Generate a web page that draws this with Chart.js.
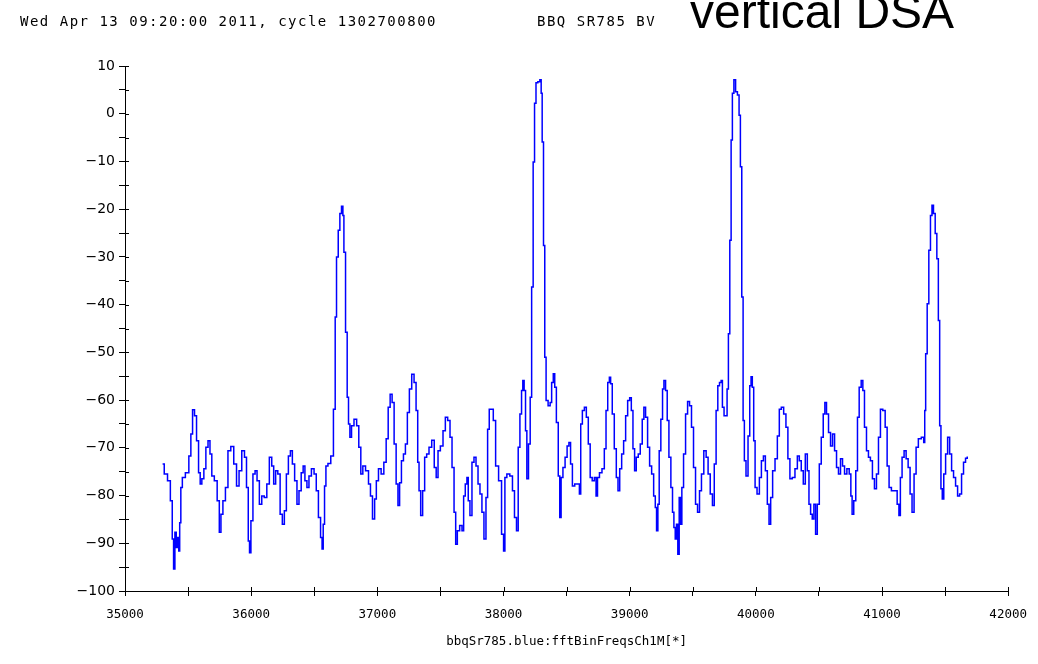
<!DOCTYPE html>
<html>
<head>
<meta charset="utf-8">
<script src="https://cdn.jsdelivr.net/npm/chart.js@4.4.1/dist/chart.umd.min.js"></script>
<style>
  body { margin: 0; background: #fff; }
  #wrap { position: relative; width: 1038px; height: 664px; background: #fff; overflow: hidden; }
  #chart { position: absolute; left: 0; top: 0; }
  .hdr { position: absolute; font-family: 'DejaVu Sans Mono', monospace; font-size: 14px; letter-spacing: 1.5px; color: #000; white-space: nowrap; }
  #big { position: absolute; left: 690px; top: -12px; font-family: 'Liberation Sans', Arial, sans-serif; font-size: 48px; line-height: 48px; color: #000; white-space: nowrap; }
</style>
</head>
<body>
<div id="wrap">
  <canvas id="chart" width="1038" height="664"></canvas>
  <div class="hdr" style="left:20px; top:13px;">Wed Apr 13 09:20:00 2011, cycle 1302700800</div>
  <div class="hdr" style="left:537px; top:13px;">BBQ SR785 BV</div>
  <div id="big">vertical DSA</div>
</div>
<script>
// spectrum trace: bin frequency and level
var freqs = [
  35298,35324,35350,35369,35380,35390,35401,35411,35422,35430,35437,35448,35461,35496,35516,35528,35543,35559,35575,35591,
  35601,35617,35633,35649,35667,35680,35696,35720,35741,35754,35767,35785,35807,35825,35852,35872,35896,35912,35939,35955,
  35971,35983,35991,36005,36023,36039,36054,36076,36092,36115,36133,36155,36171,36186,36202,36220,36239,36255,36271,36287,
  36303,36319,36334,36355,36371,36387,36406,36418,36434,36450,36466,36489,36508,36524,36542,36558,36566,36576,36587,36598,
  36619,36643,36661,36671,36682,36698,36708,36724,36730,36740,36756,36766,36777,36788,36803,36827,36845,36861,36877,36893,
  36920,36940,36951,36972,36985,36999,37019,37041,37062,37078,37094,37109,37125,37141,37157,37170,37183,37199,37215,37230,
  37246,37262,37283,37299,37315,37325,37336,37351,37367,37383,37399,37420,37442,37460,37473,37489,37510,37531,37547,37568,
  37584,37600,37616,37626,37642,37663,37679,37689,37705,37715,37726,37742,37758,37774,37790,37806,37821,37837,37853,37869,
  37879,37895,37911,37927,37948,37974,37995,38006,38016,38037,38063,38079,38095,38111,38122,38138,38148,38158,38169,38180,
  38190,38206,38217,38229,38241,38251,38264,38280,38296,38301,38312,38322,38332,38343,38364,38375,38388,38401,38411,38427,
  38441,38451,38462,38480,38496,38512,38525,38538,38554,38575,38596,38607,38617,38633,38649,38664,38680,38694,38712,38728,
  38739,38751,38770,38791,38807,38818,38834,38844,38854,38870,38886,38902,38913,38929,38944,38960,38976,38992,39008,39018,
  39034,39044,39060,39076,39092,39107,39118,39134,39150,39166,39182,39198,39208,39218,39229,39239,39255,39266,39277,39292,
  39303,39319,39334,39345,39356,39366,39376,39387,39398,39408,39419,39435,39451,39467,39482,39498,39514,39530,39546,39561,
  39577,39598,39614,39629,39648,39664,39677,39693,39704,39720,39730,39740,39756,39767,39777,39788,39799,39809,39819,39833,
  39846,39862,39872,39883,39894,39904,39914,39930,39946,39957,39967,39977,39989,39999,40020,40036,40052,40068,40083,40099,
  40110,40125,40141,40163,40178,40194,40210,40231,40246,40262,40278,40299,40321,40337,40352,40368,40384,40400,40416,40426,
  40442,40452,40468,40479,40495,40511,40526,40542,40552,40568,40584,40600,40616,40632,40647,40663,40679,40695,40711,40732,
  40748,40758,40768,40784,40800,40811,40827,40843,40853,40869,40885,40900,40916,40932,40948,40964,40980,40995,41017,41033,
  41048,41064,41085,41112,41128,41140,41151,41167,41183,41199,41215,41230,41246,41262,41278,41298,41325,41336,41341,41351,
  41365,41377,41391,41401,41415,41428,41441,41452,41462,41472,41483,41496,41512,41528,41544,41559,41575,41591,41607,41623,
  41638,41654,41670,41681
];
var levels = [
  -73.4,-75.5,-76.9,-81.1,-89.1,-95.4,-87.7,-90.9,-88.8,-91.6,-85.7,-78.3,-76.2,-75.2,-71.7,-67.1,-62.0,-63.3,-68.5,-75.2,
  -77.6,-76.5,-74.4,-69.9,-68.5,-71.3,-75.9,-76.9,-81.1,-87.7,-83.9,-81.1,-78.3,-70.6,-69.7,-73.4,-78.0,-74.8,-70.6,-72.0,
  -78.3,-89.5,-92.0,-85.3,-75.5,-74.8,-76.9,-81.8,-80.1,-80.4,-77.6,-72.0,-73.8,-77.6,-74.8,-75.5,-83.9,-86.0,-83.2,-75.5,
  -71.7,-70.6,-73.4,-76.9,-81.8,-79.0,-75.2,-73.8,-76.9,-78.3,-75.9,-74.4,-75.5,-79.0,-84.6,-88.8,-91.2,-86.0,-78.0,-73.8,
  -73.3,-71.7,-61.9,-42.6,-30.0,-24.4,-20.9,-19.4,-21.3,-29.0,-45.8,-59.4,-65.0,-67.8,-65.4,-64.0,-65.4,-69.9,-75.5,-73.8,
  -74.8,-77.6,-80.1,-84.9,-80.7,-76.9,-74.4,-75.5,-73.0,-68.1,-61.5,-58.8,-60.5,-69.2,-77.6,-82.1,-77.3,-72.7,-71.3,-69.2,
  -62.6,-57.7,-54.6,-56.3,-62.2,-73.0,-79.0,-84.2,-79.0,-72.0,-71.3,-69.9,-68.4,-74.1,-76.2,-70.6,-69.6,-66.4,-63.6,-64.3,
  -67.8,-74.1,-83.5,-90.2,-87.4,-86.3,-87.4,-80.1,-77.6,-76.2,-81.1,-84.2,-73.0,-72.0,-73.8,-77.6,-79.7,-83.5,-89.1,-80.4,
  -66.1,-61.9,-61.9,-64.3,-73.8,-76.9,-88.1,-91.6,-76.2,-75.5,-75.9,-79.0,-84.6,-87.4,-69.9,-62.9,-58.0,-55.9,-58.0,-66.4,
  -76.5,-69.2,-59.4,-36.3,-10.1,2.2,6.5,6.7,7.1,4.3,-5.9,-27.6,-51.0,-60.1,-61.2,-60.5,-56.3,-54.5,-57.3,-64.7,
  -75.9,-84.6,-76.2,-74.1,-72.0,-69.6,-68.9,-73.4,-78.0,-77.6,-77.6,-79.7,-65.0,-62.2,-61.5,-63.6,-69.2,-76.2,-76.9,-76.2,
  -80.1,-76.2,-75.2,-74.4,-70.2,-62.2,-56.3,-55.2,-56.6,-62.9,-70.2,-76.2,-79.0,-74.4,-71.3,-68.5,-63.3,-60.1,-59.5,-62.2,
  -70.2,-74.8,-72.0,-71.3,-69.2,-64.0,-61.5,-63.6,-69.9,-73.8,-75.5,-80.1,-82.5,-87.4,-81.8,-70.6,-64.0,-57.7,-55.9,-58.0,
  -64.3,-72.0,-78.3,-83.5,-86.7,-89.1,-86.0,-92.3,-80.4,-86.0,-78.3,-71.3,-62.9,-60.3,-61.2,-65.7,-74.1,-81.8,-83.5,-79.0,
  -75.5,-70.6,-72.0,-75.5,-79.7,-82.1,-73.4,-62.2,-57.0,-56.3,-55.9,-61.5,-63.3,-63.3,-57.7,-46.1,-26.5,-5.5,4.3,7.1,
  4.6,3.9,-0.3,-11.1,-38.4,-64.3,-72.7,-75.9,-67.5,-57.0,-55.1,-57.3,-68.5,-78.3,-79.7,-76.2,-72.7,-71.7,-74.8,-81.8,
  -86.0,-80.4,-74.8,-72.3,-67.5,-61.9,-61.5,-62.9,-65.7,-72.3,-76.5,-76.2,-74.4,-71.7,-72.7,-74.8,-77.6,-71.3,-74.8,-81.8,
  -83.9,-84.9,-81.8,-88.1,-81.8,-73.4,-67.8,-62.9,-60.5,-62.9,-66.8,-69.6,-67.1,-70.6,-74.1,-75.5,-72.3,-73.8,-75.5,-74.4,
  -75.5,-80.1,-83.9,-81.1,-74.8,-63.6,-57.3,-55.9,-58.0,-65.7,-70.6,-72.0,-72.7,-76.5,-78.6,-75.5,-67.8,-61.9,-62.2,-65.7,
  -73.8,-78.3,-79.0,-79.0,-81.8,-84.2,-76.2,-72.0,-70.6,-72.3,-74.1,-79.7,-83.5,-75.5,-69.9,-68.1,-67.8,-68.9,-62.2,-50.3,
  -39.8,-28.6,-21.3,-19.2,-20.9,-25.1,-30.4,-43.3,-65.4,-78.6,-80.7,-75.5,-71.3,-67.8,-71.3,-74.8,-76.2,-78.0,-80.1,-79.7,
  -75.5,-73.0,-72.2,-72.0
];

// axis ranges and tick spacing
var xMin = 35000, xMax = 42000, xStep = 500;
var yMin = -100, yMax = 10, yStep = 5;

var points = freqs.map(function (f, i) { return { x: f, y: levels[i] }; });

// little ticks on the inside of both axes too
var innerTicks = {
  id: 'innerTicks',
  afterDraw: function (chart) {
    var ctx = chart.ctx, a = chart.chartArea;
    var sx = chart.scales.x, sy = chart.scales.y;
    ctx.save();
    ctx.strokeStyle = '#000';
    ctx.lineWidth = 1;
    ctx.beginPath();
    for (var v = xMin; v <= xMax; v += xStep) {
      var px = Math.round(sx.getPixelForValue(v)) + 0.5;
      ctx.moveTo(px, a.bottom);
      ctx.lineTo(px, a.bottom - 4);
    }
    for (var w = yMin; w <= yMax; w += yStep) {
      var py = Math.round(sy.getPixelForValue(w)) + 0.5;
      ctx.moveTo(a.left, py);
      ctx.lineTo(a.left + 4, py);
    }
    ctx.stroke();
    ctx.restore();
  }
};

new Chart(document.getElementById('chart'), {
  type: 'line',
  data: {
    datasets: [{
      data: points,
      borderColor: '#0000ff',
      borderWidth: 1.5,
      pointRadius: 0,
      stepped: 'middle',
      fill: false
    }]
  },
  options: {
    responsive: false,
    animation: false,
    events: [],
    layout: { padding: { left: 0, top: 66, right: 29, bottom: 0 } },
    plugins: { legend: { display: false }, tooltip: { enabled: false } },
    scales: {
      x: {
        type: 'linear',
        min: xMin,
        max: xMax,
        afterFit: function (s) { s.height = 73; },
        border: { color: '#000', width: 1 },
        grid: { drawOnChartArea: false, color: '#000', tickLength: 5 },
        ticks: {
          stepSize: xStep,
          autoSkip: false,
          maxRotation: 0,
          padding: 11,
          color: '#000',
          font: { family: 'DejaVu Sans Mono', size: 12.5 },
          callback: function (v) { return v % 1000 === 0 ? String(v) : ''; }
        },
        title: {
          display: true,
          text: 'bbqSr785.blue:fftBinFreqsCh1M[*]',
          color: '#000',
          font: { family: 'DejaVu Sans Mono', size: 12.5 },
          padding: { top: 0, bottom: 15 }
        }
      },
      y: {
        min: yMin,
        max: yMax,
        afterFit: function (s) { s.width = 125; },
        border: { color: '#000', width: 1 },
        grid: { drawOnChartArea: false, color: '#000', tickLength: 6 },
        ticks: {
          stepSize: yStep,
          autoSkip: false,
          padding: 4,
          color: '#000',
          font: { family: 'DejaVu Sans', size: 14 },
          callback: function (v) { return v % 10 === 0 ? String(v).replace('-', '\u2212') : ''; }
        }
      }
    }
  },
  plugins: [innerTicks]
});
</script>
</body>
</html>
